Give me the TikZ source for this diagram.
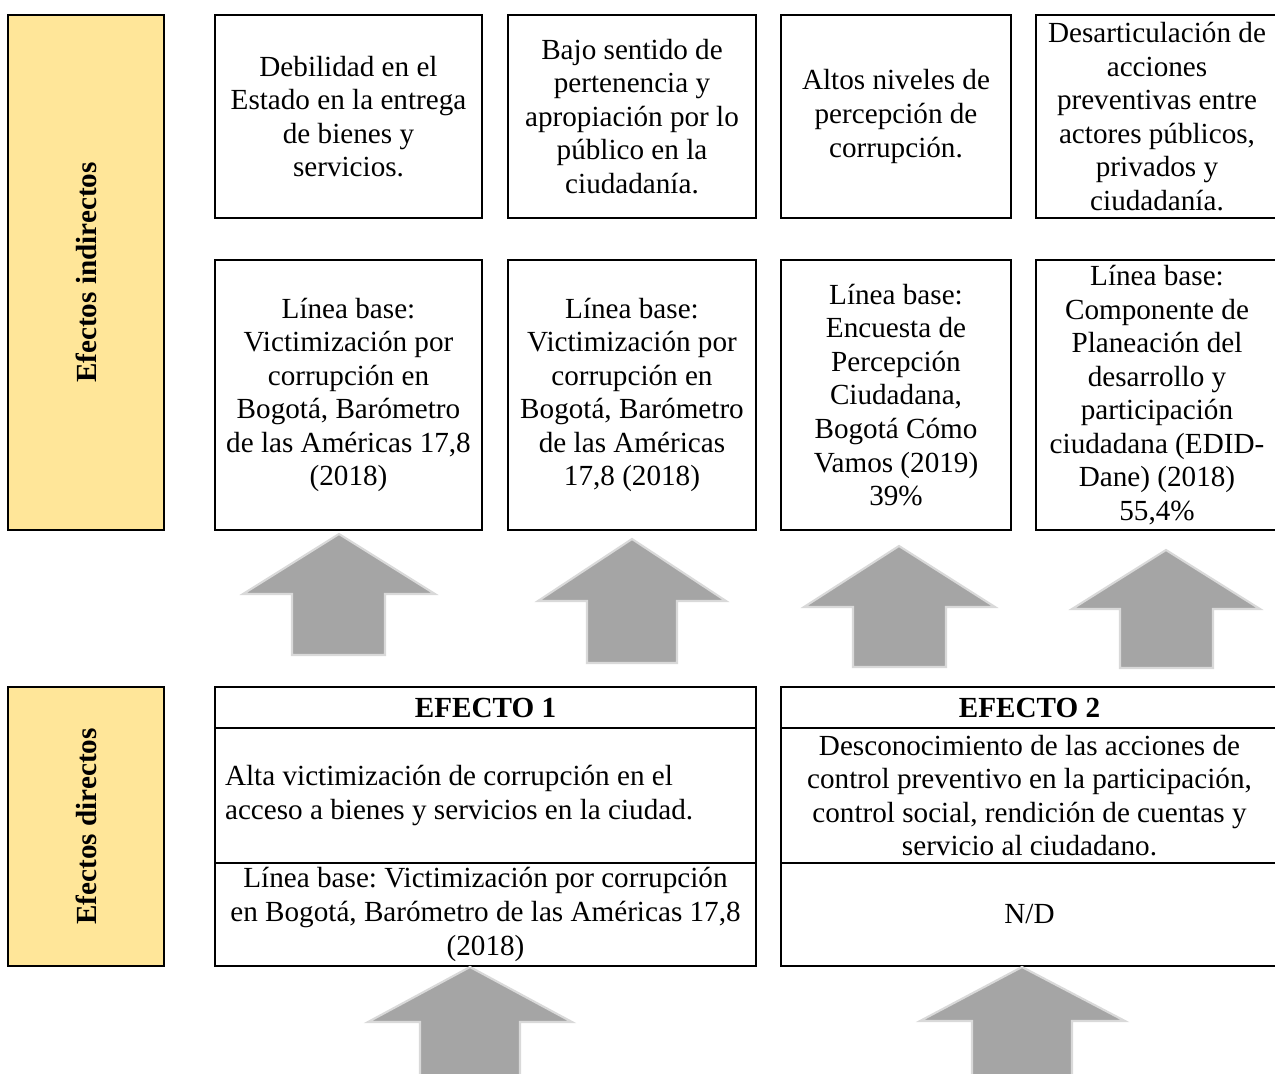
\documentclass[tikz,border=0pt]{standalone}
\usepackage{fontspec}
\setmainfont{Liberation Serif}
\usepackage{tikz}
\usetikzlibrary{positioning}
\frenchspacing

\definecolor{labelfill}{HTML}{FFE699}
\definecolor{arrowfill}{HTML}{A5A5A5}
\definecolor{arrowline}{HTML}{D9D9D9}
\newcommand{\diagfont}{\fontsize{16.6}{19.1}\selectfont}

\begin{document}
\begin{tikzpicture}[x=0.02cm, y=-0.02cm,
  cell/.style={draw, line width=1.3pt, font=\diagfont, align=center,
    inner sep=0pt, outer sep=0pt},
  side/.style={cell, fill=labelfill, rotate=90, minimum height=3.12cm,
    font=\diagfont\bfseries},
  headcell/.style={cell, minimum height=0.82cm, font=\diagfont\bfseries},
  blockarrow/.style={fill=arrowfill, draw=arrowline, line width=1.2pt}]
  \useasboundingbox (0,0) rectangle (1275,1074);
  \node[side, minimum width=10.3cm](indirectos) at (86,272.5){Efectos indirectos};
  \node[side, minimum width=5.58cm](directos) at (86,826.5){Efectos directos};
  \node[cell, minimum width=5.34cm, minimum height=4.06cm](ind1) at (348.5,116.5){Debilidad en el\\Estado en la entrega\\de bienes y\\servicios.};
  \node[cell, minimum width=4.96cm, minimum height=4.06cm](ind2) at (632,116.5){Bajo sentido de\\pertenencia y\\apropiación por lo\\público en la\\ciudadanía.};
  \node[cell, minimum width=4.6cm, minimum height=4.06cm](ind3) at (896,116.5){Altos niveles de\\percepción de\\corrupción.};
  \node[cell, minimum width=4.84cm, minimum height=4.06cm](ind4) at (1157,116.5){Desarticulación de\\acciones\\preventivas entre\\actores públicos,\\privados y\\ciudadanía.};
  \node[cell, minimum width=5.34cm, minimum height=5.4cm](base1) at (348.5,395){Línea base:\\Victimización por\\corrupción en\\Bogotá, Barómetro\\de las Américas 17,8\\(2018)};
  \node[cell, minimum width=4.96cm, minimum height=5.4cm](base2) at (632,395){Línea base:\\Victimización por\\corrupción en\\Bogotá, Barómetro\\de las Américas\\17,8 (2018)};
  \node[cell, minimum width=4.6cm, minimum height=5.4cm](base3) at (896,395){Línea base:\\Encuesta de\\Percepción\\Ciudadana,\\Bogotá Cómo\\Vamos (2019)\\39\%};
  \node[cell, minimum width=4.84cm, minimum height=5.4cm](base4) at (1157,395){Línea base:\\Componente de\\Planeación del\\desarrollo y\\participación\\ciudadana (EDID-\\Dane) (2018)\\55,4\%};
  \node[headcell, minimum width=10.82cm](efecto1) at (485.5,707.5){EFECTO 1};
  \node[cell, minimum width=10.82cm, minimum height=2.7cm, text width=10.42cm, align=flush left, inner xsep=0.2cm, below=0pt of efecto1](desc1){Alta victimización de corrupción en el\\acceso a bienes y servicios en la ciudad.};
  \node[cell, minimum width=10.82cm, minimum height=2.06cm, below=0pt of desc1](linea1){Línea base: Victimización por corrupción\\en Bogotá, Barómetro de las Américas 17,8\\(2018)};
  \node[headcell, minimum width=9.94cm](efecto2) at (1029.5,707.5){EFECTO 2};
  \node[cell, minimum width=9.94cm, minimum height=2.7cm, below=0pt of efecto2](desc2){Desconocimiento de las acciones de\\control preventivo en la participación,\\control social, rendición de cuentas y\\servicio al ciudadano.};
  \node[cell, minimum width=9.94cm, minimum height=2.06cm, below=0pt of desc2](linea2){N/D};
  \foreach \tx/\ty/\hl/\hr/\hy/\xl/\xr/\by in {339/534/243/435/594/292/385/655,
      632/539/538/726/601/587/677/663, 899/546/804/995/607/853/946/667,
      1166/550/1072/1260/609/1120/1213/668, 470/967/368/572/1022/420/520/1082,
      1022/967/920/1125/1021/972/1072/1082}
    \draw[blockarrow](\tx,\ty)--(\hr,\hy)--(\xr,\hy)--(\xr,\by)--(\xl,\by)--(\xl,\hy)--(\hl,\hy)--cycle;
\end{tikzpicture}
\end{document}
